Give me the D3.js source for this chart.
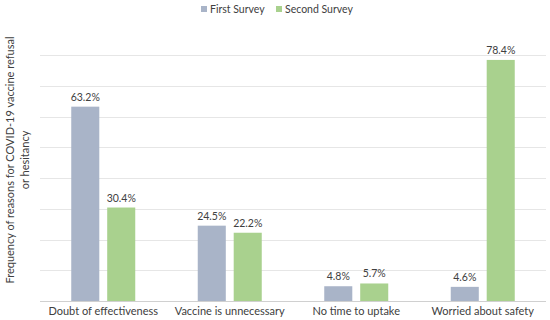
<!DOCTYPE html>
<html>
<head>
<meta charset="utf-8">
<script src="https://cdn.jsdelivr.net/npm/d3@7"></script>
<style>
  body { margin: 0; background: #fff; }
  text { font-family: Lato, "Open Sans", sans-serif; fill: #404040; }
</style>
</head>
<body>
<div class="chart"></div>
<script>
var categories = ["Doubt of effectiveness", "Vaccine is unnecessary", "No time to uptake", "Worried about safety"];
var seriesNames = ["First Survey", "Second Survey"];
var firstSurvey = [63.2, 24.5, 4.8, 4.6];
var secondSurvey = [30.4, 22.2, 5.7, 78.4];
var yTicks = [0, 10, 20, 30, 40, 50, 60, 70, 80];
var colors = ["#A9B4C8", "#A9D18E"];

var w = 550, h = 320;
var margin = {top: 56, right: 4, bottom: 19, left: 40};

var svg = d3.select('.chart').append('svg')
	.attr('width', w)
	.attr('height', h);

var x0 = d3.scaleBand()
	.domain(categories)
	.range([margin.left, w - margin.right]);

var x1 = d3.scaleBand()
	.domain(seriesNames)
	.range([0, 64])
	.paddingInner(0.22);

var y = d3.scaleLinear()
	.domain([0, 80])
	.range([h - margin.bottom, margin.top - 1]);

// gridlines
svg.append('g').selectAll('line').data(yTicks).enter()
	.append('line')
	.attr('x1', margin.left)
	.attr('x2', w - margin.right)
	.attr('y1', function(d){ return Math.round(y(d)) + 0.5; })
	.attr('y2', function(d){ return Math.round(y(d)) + 0.5; })
	.attr('stroke', function(d){ return d === 0 ? '#d0d0d0' : '#e6e6e6'; })
	.attr('stroke-width', 1);

var rows = categories.map(function(c, i){
	return [{s: seriesNames[0], v: firstSurvey[i]}, {s: seriesNames[1], v: secondSurvey[i]}];
});

var groups = svg.append('g').selectAll('g').data(rows).enter()
	.append('g')
	.attr('transform', function(d, i){
		return 'translate(' + (x0(categories[i]) + x0.bandwidth() / 2 - 32) + ',0)';
	});

groups.selectAll('rect').data(function(d){ return d; }).enter()
	.append('rect')
	.attr('x', function(d){ return x1(d.s); })
	.attr('width', x1.bandwidth())
	.attr('y', function(d){ return y(d.v); })
	.attr('height', function(d){ return y(0) - y(d.v); })
	.attr('fill', function(d, i){ return colors[i]; });

groups.selectAll('text').data(function(d){ return d; }).enter()
	.append('text')
	.attr('x', function(d){ return x1(d.s) + x1.bandwidth() / 2; })
	.attr('y', function(d){ return y(d.v) - 6; })
	.attr('text-anchor', 'middle')
	.style('font-size', '10.5px')
	.text(function(d){ return d.v.toFixed(1) + '%'; });

// category labels
svg.append('g').selectAll('text').data(categories).enter()
	.append('text')
	.attr('x', function(d){ return x0(d) + x0.bandwidth() / 2; })
	.attr('y', h - 5)
	.attr('text-anchor', 'middle')
	.style('font-size', '11px')
	.text(function(d){ return d; });

// y axis title
var title = svg.append('text')
	.attr('transform', 'translate(14,160) rotate(-90)')
	.attr('text-anchor', 'middle')
	.style('font-size', '11px');
title.append('tspan').attr('x', 0).attr('dy', 0).text('Frequency of reasons for COVID-19 vaccine refusal');
title.append('tspan').attr('x', 0).attr('dy', 15).text('or hesitancy');

// legend
var legend = svg.append('g').attr('transform', 'translate(201,9)');
var legX = [0, 75];
seriesNames.forEach(function(s, i){
	var g = legend.append('g').attr('transform', 'translate(' + legX[i] + ',0)');
	g.append('rect').attr('x', 0).attr('y', -3).attr('width', 6).attr('height', 6).attr('fill', colors[i]);
	g.append('text').attr('x', 9).attr('y', 4).style('font-size', '10.5px').text(s);
});
</script>
</body>
</html>
